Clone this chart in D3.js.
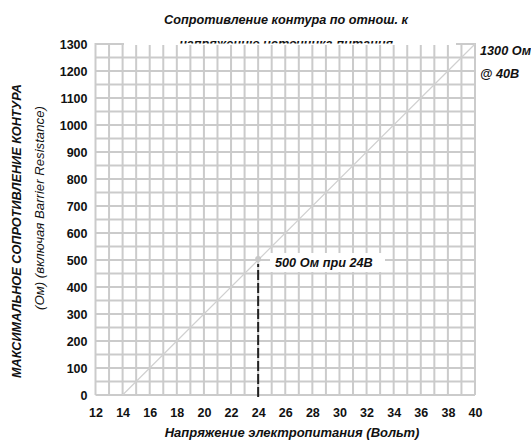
<!DOCTYPE html>
<html>
<head>
<meta charset="utf-8">
<script src="https://cdn.jsdelivr.net/npm/d3@7"></script>
<style>
  body { margin: 0; background: #fff; }
  text { font-family: "Liberation Sans", Arial, sans-serif; }
</style>
</head>
<body>
<svg id="chart" width="531" height="441"></svg>
<script>
// chart data
const voltage = [14, 40];          // supply voltage (V)
const resistance = [0, 1300];      // max loop resistance (Ohm)
const markPoint = [24, 500];
const xTicks = d3.range(12, 41, 2);
const yTicks = d3.range(0, 1301, 100);
const xGrid = d3.range(12, 41, 1);
const yGrid = d3.range(0, 1301, 50);

const svg = d3.select("#chart");
const x = d3.scaleLinear().domain([12, 40]).range([95.5, 475]);
const y = d3.scaleLinear().domain([0, 1300]).range([395, 44]);
const gridColor = "#cbcbcb";
const fs = 12.7;

// clip for the title's second line (plot covers its bottom)
svg.append("clipPath").attr("id", "titleClip")
  .append("rect").attr("x", 0).attr("y", 0).attr("width", 531).attr("height", 43.5);

// grid: horizontal lines, mask under title, then vertical lines
const grid = svg.append("g").attr("stroke", gridColor).attr("stroke-width", 2);
grid.selectAll(".h").data(yGrid).join("line").attr("class", "h")
    .attr("x1", x(12)).attr("x2", x(40))
    .attr("y1", d => y(d)).attr("y2", d => y(d));
svg.append("rect").attr("x", 124).attr("y", 34).attr("width", 332).attr("height", 11.5)
    .attr("fill", "#fff");
const vgrid = svg.append("g").attr("stroke", gridColor).attr("stroke-width", 2);
vgrid.selectAll(".v").data(xGrid).join("line").attr("class", "v")
    .attr("x1", d => x(d)).attr("x2", d => x(d))
    .attr("y1", y(0)).attr("y2", d => (d >= 14 && d <= 38) ? y(1300) + 1 : y(1300) - 1);

// title
const title = svg.append("g")
    .attr("font-size", fs).attr("font-weight", "bold").attr("font-style", "italic")
    .attr("text-anchor", "middle").attr("fill", "#111");
title.append("text").attr("x", 286).attr("y", 24).text("Сопротивление контура по отнош. к");
title.append("text").attr("x", 286).attr("y", 47.5).attr("clip-path", "url(#titleClip)")
    .text("напряжению источника питания");

// diagonal line
const line = d3.line().x(d => x(d[0])).y(d => y(d[1]));
svg.append("path")
    .datum(voltage.map((v, i) => [v, resistance[i]]))
    .attr("d", line).attr("fill", "none")
    .attr("stroke", "#d0d0d0").attr("stroke-width", 1.2);

// dashed drop line at 24 V
svg.append("line")
    .attr("x1", x(markPoint[0])).attr("x2", x(markPoint[0]))
    .attr("y1", y(0) + 2).attr("y2", y(markPoint[1]) + 4)
    .attr("stroke", "#222").attr("stroke-width", 2)
    .attr("stroke-dasharray", "10,3");
svg.append("circle")
    .attr("cx", x(markPoint[0])).attr("cy", y(markPoint[1]) - 1)
    .attr("r", 3).attr("fill", "#c8c8c8");

// 500 Ohm annotation
svg.append("rect").attr("x", 270).attr("y", 253).attr("width", 115).attr("height", 19)
    .attr("fill", "#fff");
svg.append("text").attr("x", 275).attr("y", 267)
    .attr("font-size", fs).attr("font-weight", "bold").attr("font-style", "italic")
    .attr("fill", "#111").text("500 Ом при 24В");

// right annotation
const ann = svg.append("g")
    .attr("font-size", fs).attr("font-weight", "bold").attr("font-style", "italic")
    .attr("fill", "#111");
ann.append("text").attr("x", 480).attr("y", 55).text("1300 Ом");
ann.append("text").attr("x", 480).attr("y", 78).text("@ 40В");

// axes
const xAxis = svg.append("g").attr("transform", `translate(0,${y(0)})`)
    .call(d3.axisBottom(x).tickValues(xTicks).tickFormat(d3.format("d"))
      .tickSize(0).tickPadding(13));
const yAxis = svg.append("g").attr("transform", `translate(${x(12)},0)`)
    .call(d3.axisLeft(y).tickValues(yTicks).tickFormat(d3.format("d"))
      .tickSize(0).tickPadding(8));
[xAxis, yAxis].forEach(a => {
  a.select(".domain").remove();
  a.selectAll("text").attr("font-size", 12.5).attr("font-weight", "bold")
    .attr("fill", "#111").attr("font-family", "Liberation Sans, Arial, sans-serif");
});

// axis titles
svg.append("text").attr("x", 292).attr("y", 437).attr("text-anchor", "middle")
    .attr("font-size", 13).attr("font-weight", "bold").attr("font-style", "italic")
    .attr("fill", "#111").text("Напряжение электропитания (Вольт)");
svg.append("text").attr("transform", "translate(21,231) rotate(-90)")
    .attr("text-anchor", "middle")
    .attr("font-size", fs).attr("font-weight", "bold").attr("font-style", "italic")
    .attr("fill", "#111").text("МАКСИМАЛЬНОЕ СОПРОТИВЛЕНИЕ КОНТУРА");
svg.append("text").attr("transform", "translate(44,208) rotate(-90)")
    .attr("text-anchor", "middle")
    .attr("font-size", 13.2).attr("font-style", "italic")
    .attr("fill", "#111").text("(Ом) (включая Barrier Resistance)");
</script>
</body>
</html>
